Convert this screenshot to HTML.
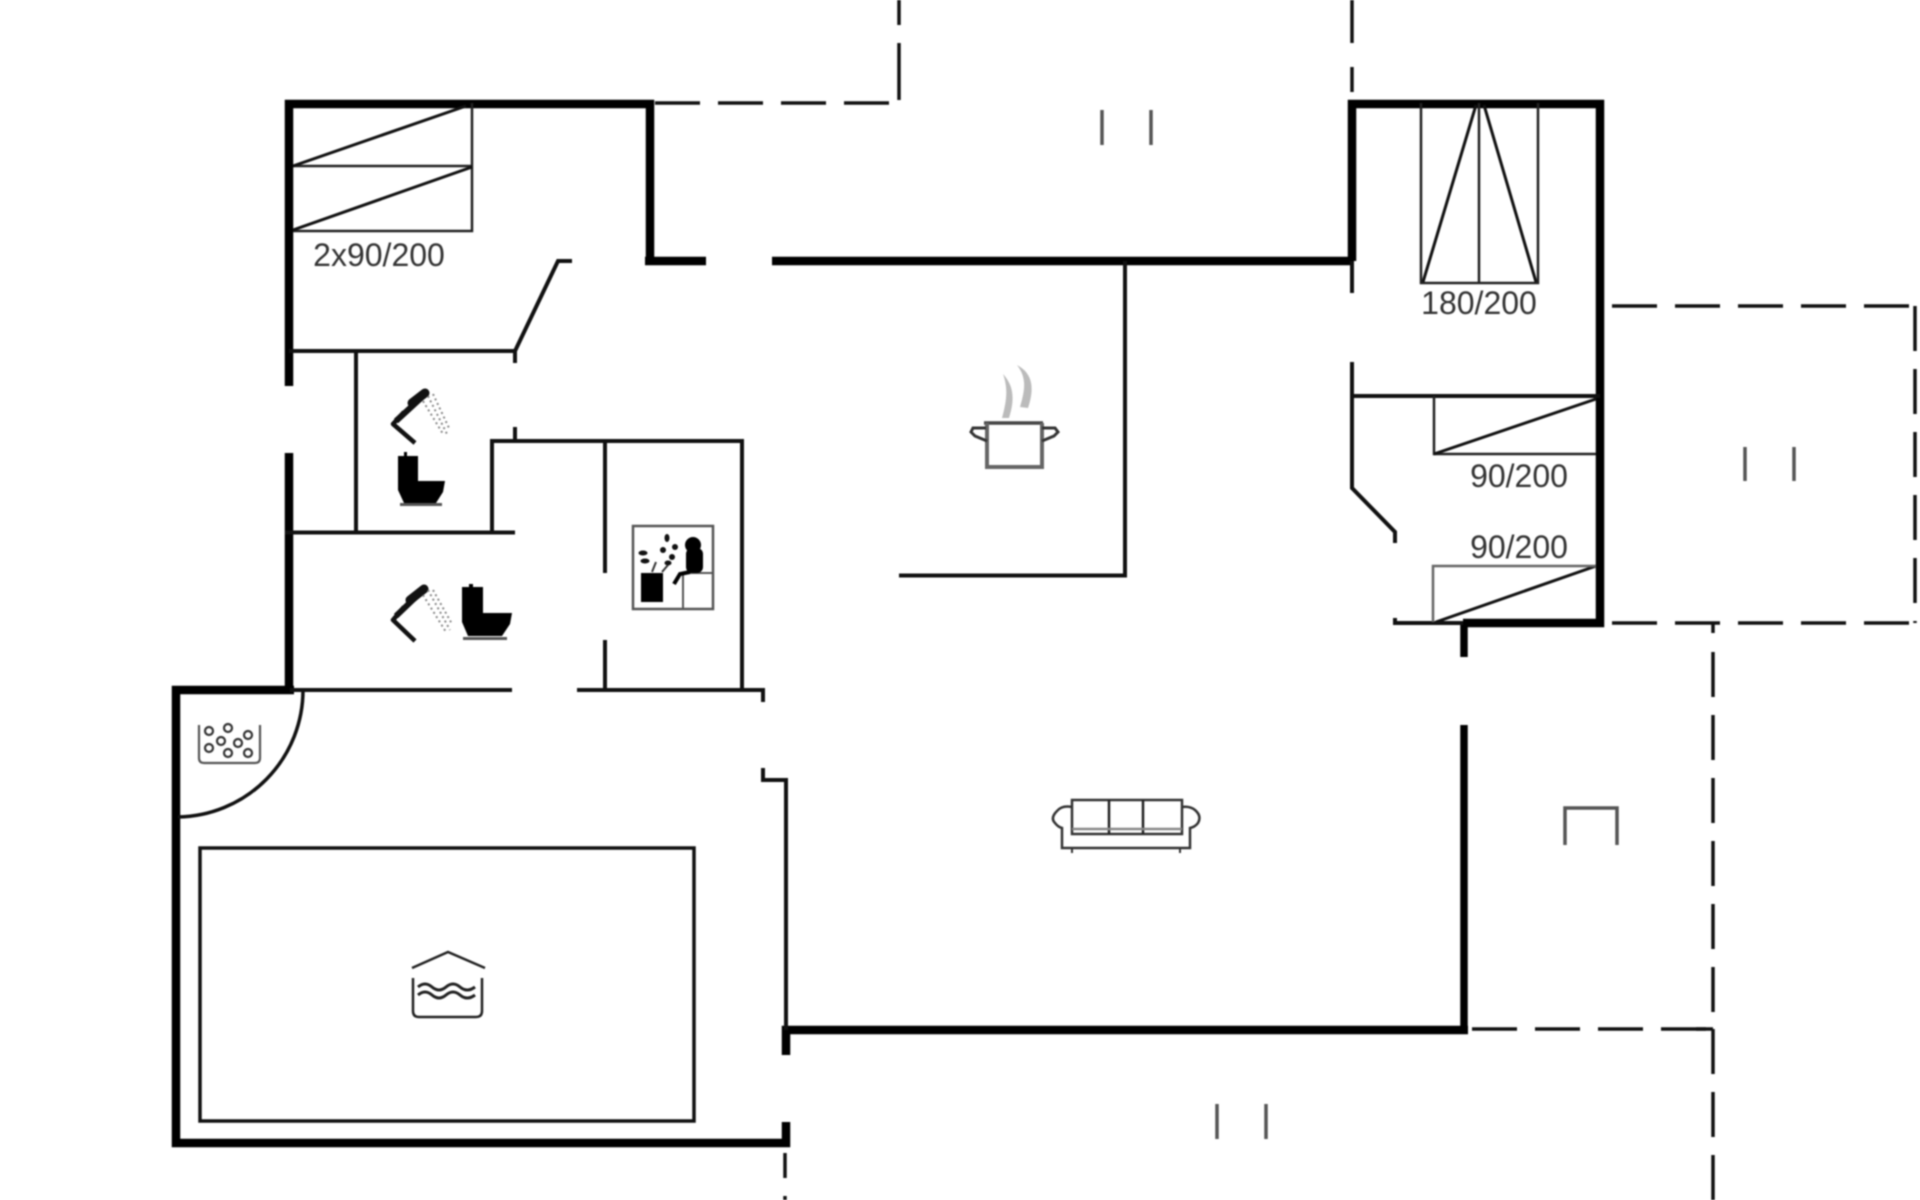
<!DOCTYPE html>
<html><head><meta charset="utf-8"><title>Floor plan</title>
<style>
html,body{margin:0;padding:0;background:#fff;width:1920px;height:1200px;overflow:hidden}
svg{display:block;filter:blur(0.9px)}
text{font-family:"Liberation Sans",sans-serif;font-size:32px;fill:#333;text-anchor:middle}
</style></head><body>
<svg width="1920" height="1200" viewBox="0 0 1920 1200" xmlns="http://www.w3.org/2000/svg" fill="none" stroke-linecap="butt">
<!-- dashed outlines -->
<g stroke="#111" stroke-width="3.5" stroke-dasharray="45 18">
<path d="M655 103H899"/>
<path d="M1612 306H1916"/>
<path d="M1915 306V623"/>
<path d="M1612 623H1916"/>
<path d="M1713 652V1029"/>
<path d="M1472 1029H1713"/>
<path d="M1713 1029V1200"/>
</g>
<g stroke="#111" stroke-width="3.5">
<path d="M899 0V25M899 43V100"/>
<path d="M1352 0V43M1352 67V92"/>
<path d="M785 1153V1178M785 1196V1200"/>
<path d="M1713 623V633"/>
<path d="M1696 1029H1713"/>
</g>
<!-- ticks -->
<g stroke="#555" stroke-width="3.5">
<path d="M1102 110V145M1151 110V145M1745 447V481M1794 447V481M1217 1104V1139M1266 1104V1139"/>
<path d="M1565 845V808H1617V845"/>
</g>
<!-- thick walls -->
<g stroke="#000" stroke-width="8.5">
<path d="M289 386V104H650V261"/>
<path d="M289 453V690"/>
<path d="M645 261H706M772 261H1352"/>
<path d="M1352 261V104H1600V623H1463"/>
<path d="M294 690H176V1143H786V1122"/>
<path d="M786 1055V1030H1468"/>
</g>
<g stroke="#000" stroke-width="7.5">
<path d="M1464 623V657M1464 725V1030"/>
</g>
<!-- thin walls -->
<g stroke="#111" stroke-width="4">
<path d="M289 351H515V363M515 351L558 261H572"/>
<path d="M356 351V532M285 532.5H515"/>
<path d="M515 427V441M492 533V441H742V690"/>
<path d="M605 441V573M605 640V690"/>
<path d="M290 690H512M577 690H763V702"/>
<path d="M763 768V780H786V1030"/>
<path d="M1125 261V575.5H899"/>
<path d="M1352 261V293M1352 362V488L1395 532V543"/>
<path d="M1352 396H1600"/>
<path d="M1395 618V623H1463"/>
<path d="M786 1000V1030"/>
<path d="M200 848H694V1121H200Z" stroke-width="3.5"/>
<path d="M303 690A127 127 0 0 1 178 817" stroke-width="3.5"/>
</g>
<!-- beds -->
<g stroke="#222" stroke-width="2.5">
<path d="M293 166H472M472 103V231H293"/>
<path d="M1421 103V283H1538V103M1479 103V283"/>
<path d="M1434 396V454H1596"/>
</g>
<g stroke="#111" stroke-width="3">
<path d="M293 166L466 106M293 230L472 167"/>
<path d="M1423 282L1476 105M1484 105L1536 282"/>
<path d="M1434 454L1596 399"/>
<path d="M1436 622L1596 566"/>
</g>
<g stroke="#666" stroke-width="2.5"><path d="M1433 622V566H1596"/></g>
<text x="379" y="266">2x90/200</text>
<text x="1479" y="314">180/200</text>
<text x="1519" y="487">90/200</text>
<text x="1519" y="558">90/200</text>
<!-- showers -->
<g stroke="#111" stroke-width="4.5" stroke-linejoin="round">
<path d="M415 443L393 424L404 412"/>
<path d="M396 421L421 398" stroke-width="6"/>
<path d="M412 403L425 393" stroke-width="9" stroke-linecap="round"/>
<path d="M415 641L393 620L404 607"/>
<path d="M396 616L419 594" stroke-width="6"/>
<path d="M410 600L424 589" stroke-width="9" stroke-linecap="round"/>
</g>
<g stroke="#888" stroke-width="2" stroke-dasharray="2 3">
<path d="M428 396L447 434M433 394L449 428M423 401L443 434"/>
<path d="M428 590L450 630M433 590L452 624M423 595L446 632"/>
</g>
<!-- toilets -->
<g fill="#000">
<path d="M398 456H404V452H407V456H418V481H445L443 492L436 503H404L398 490Z"/>
<rect x="400" y="503" width="42" height="3" fill="#555"/>
<path d="M462 587H469V584H473V587H483V613H512L510 624L502 636H468L462 622Z"/>
<rect x="463" y="637" width="44" height="3" fill="#555"/>
</g>
<!-- utility icon -->
<g>
<rect x="633" y="526" width="80" height="83" stroke="#555" stroke-width="2.5"/>
<path d="M683 573V609M685 573H713" stroke="#555" stroke-width="2"/>
<rect x="641" y="573" width="22" height="29" fill="#000"/>
<circle cx="693" cy="545" r="8" fill="#000"/>
<rect x="686" y="548" width="17" height="25" rx="6" fill="#000"/>
<path d="M690 572L680 574L674 584" stroke="#000" stroke-width="4"/>
<g fill="#111">
<ellipse cx="667" cy="538" rx="2.5" ry="4"/><circle cx="675" cy="547" r="3"/>
<circle cx="663" cy="550" r="3"/><circle cx="672" cy="557" r="3"/>
<ellipse cx="668" cy="563" rx="3.5" ry="2.5"/><ellipse cx="643" cy="553" rx="4.5" ry="2.5"/>
<ellipse cx="645" cy="561" rx="4.5" ry="2.5"/>
<path d="M652 572L656 562M662 572L668 565" stroke="#333" stroke-width="2"/>
</g>
</g>
<!-- pot -->
<g>
<path d="M1003 374C1012 384 1016 396 1009 418L1002 418C1007 400 1008 388 1003 374Z" fill="#bbb"/>
<path d="M1017 365C1030 372 1036 384 1028 408L1020 407C1025 390 1027 378 1017 365Z" fill="#bbb"/>
<path d="M984 423H1043" stroke="#444" stroke-width="3.5"/>
<path d="M987 423V467H1042V423" stroke="#666" stroke-width="4"/>
<path d="M986 428L973 428L971 432L975 436L987 441M1042 428L1055 428L1058 432L1054 436L1042 441" stroke="#333" stroke-width="3"/>
</g>
<!-- sofa -->
<g stroke="#333" stroke-width="2.5">
<rect x="1072" y="800" width="110" height="34"/>
<path d="M1109 800V834M1143 800V834" stroke="#222"/>
<path d="M1072 829H1182" stroke="#888"/>
<path d="M1072 807Q1062 805 1057 811Q1050 818 1055 823Q1058 827 1062 828V848H1190V828Q1195 827 1198 823Q1202 816 1195 810Q1190 806 1182 807"/>
<path d="M1072 848V853M1180 848V853" stroke-width="2"/>
</g>
<!-- pool icon -->
<g stroke="#222" stroke-width="2.5">
<path d="M412 968L448 952L485 968"/>
<path d="M413 978V1011Q413 1017 419 1017H476Q482 1017 482 1011V978"/>
<path d="M418 987Q425 981 432 987T446 987T460 987T475 987" stroke-width="3"/>
<path d="M418 995Q425 989 432 995T446 995T460 995T475 995" stroke-width="3"/>
</g>
<!-- jacuzzi icon -->
<g stroke="#333" stroke-width="2.2">
<path d="M199 725V758Q199 763 204 763H255Q260 763 260 758V725" stroke="#555"/>
<circle cx="209" cy="731" r="4"/><circle cx="228" cy="728" r="4"/><circle cx="248" cy="735" r="4"/>
<circle cx="221" cy="741" r="4"/><circle cx="238" cy="743" r="4"/><circle cx="209" cy="748" r="4"/>
<circle cx="228" cy="753" r="4"/><circle cx="248" cy="753" r="4"/>
</g>
</svg>
</body></html>
